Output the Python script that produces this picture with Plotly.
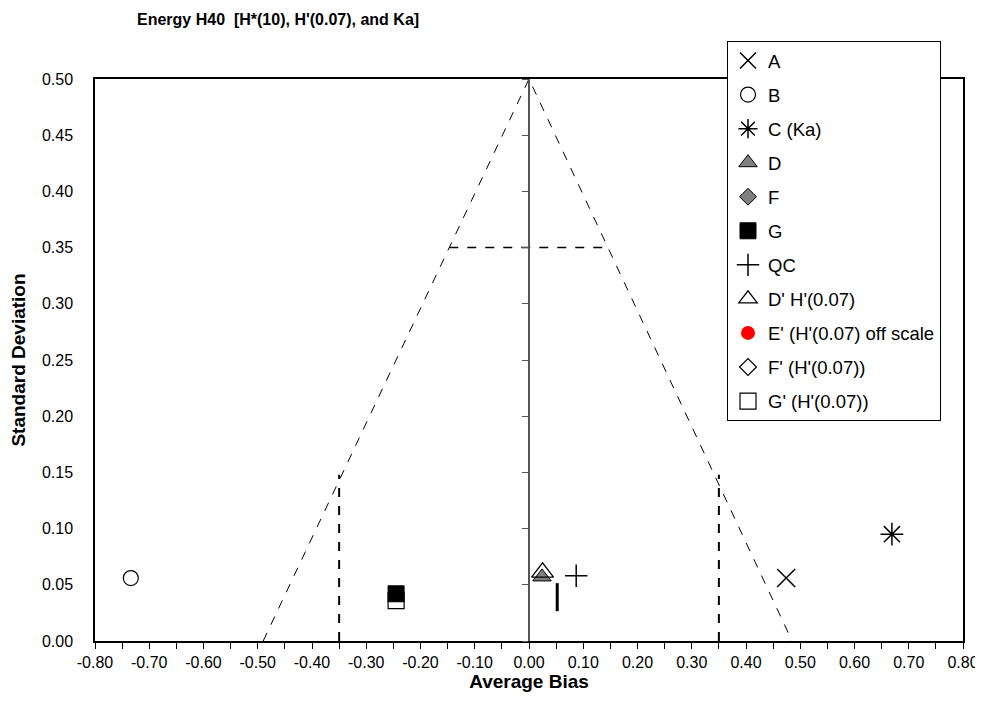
import plotly.graph_objects as go

# ---- data ----
names = ["A", "B", "C (Ka)", "D", "F", "G", "QC", "D' H'(0.07)",
         "E' (H'(0.07) off scale", "F' (H'(0.07))", "G' (H'(0.07))"]
bias = [0.474, -0.734, 0.669, 0.024, None, -0.245, 0.087, 0.025, None, None, -0.245]
stdev = [0.056, 0.056, 0.095, 0.057, None, 0.042, 0.058, 0.061, None, None, 0.036]

# extra unlabelled mark
extra_bias = [0.052]
extra_sd = [0.039]

# acceptance region
tri_x = [-0.49, 0.0, 0.485]
tri_y = [0.0, 0.5, 0.0]
h_x = [-0.147, 0.15]
h_y = [0.35, 0.35]
vl_x = [-0.35, -0.35]
vr_x = [0.35, 0.35]
v_y = [0.0, 0.148]
axis0_x = [0.0, 0.0]
axis0_y = [0.0, 0.5]

# tick labels
x_tickvals = [-0.8, -0.7, -0.6, -0.5, -0.4, -0.3, -0.2, -0.1, 0.0,
              0.1, 0.2, 0.3, 0.4, 0.5, 0.6, 0.7, 0.8]
x_ticktext = ["-0.80", "-0.70", "-0.60", "-0.50", "-0.40", "-0.30", "-0.20", "-0.10", "0.00",
              "0.10", "0.20", "0.30", "0.40", "0.50", "0.60", "0.70", "0.80"]

styles = [
    dict(symbol="x-thin-open", size=18, color="black", line=dict(width=1.5, color="black")),
    dict(symbol="circle-open", size=15, color="black", line=dict(width=1.2, color="black")),
    dict(symbol="asterisk-open", size=19, color="black", line=dict(width=1.5, color="black")),
    dict(symbol="triangle-up", size=16, color="#808080", line=dict(width=1, color="black")),
    dict(symbol="diamond", size=13, color="#808080", line=dict(width=1, color="black")),
    dict(symbol="square", size=16, color="black", line=dict(width=1, color="black")),
    dict(symbol="cross-thin-open", size=16, color="black", line=dict(width=1.5, color="black")),
    dict(symbol="triangle-up-open", size=19, color="black", line=dict(width=1.3, color="black")),
    dict(symbol="circle", size=14, color="red", line=dict(width=0, color="red")),
    dict(symbol="diamond-open", size=13, color="black", line=dict(width=1.2, color="black")),
    dict(symbol="square-open", size=16, color="black", line=dict(width=1.2, color="black")),
]

fig = go.Figure()

fig.add_trace(go.Scatter(x=tri_x, y=tri_y, mode="lines",
                         line=dict(color="black", width=1, dash="dash"),
                         showlegend=False, hoverinfo="skip", legendgroup="z"))
fig.add_trace(go.Scatter(x=h_x, y=h_y, mode="lines",
                         line=dict(color="black", width=1.5, dash="dash"),
                         showlegend=False, hoverinfo="skip", legendgroup="z"))
for vx in (vl_x, vr_x):
    fig.add_trace(go.Scatter(x=vx, y=v_y, mode="lines",
                             line=dict(color="black", width=2, dash="dash"),
                             showlegend=False, hoverinfo="skip", legendgroup="z"))
fig.add_trace(go.Scatter(x=axis0_x, y=axis0_y, mode="lines",
                         line=dict(color="rgba(0,0,0,0)", width=1),
                         showlegend=False, hoverinfo="skip", yaxis="y2", legendgroup="z"))

for i, (n, bx, sy, st) in enumerate(zip(names, bias, stdev, styles)):
    fig.add_trace(go.Scatter(x=[bx], y=[sy], mode="markers", name=n,
                             marker=st, legendgroup="g%d" % i, cliponaxis=False))

fig.add_trace(go.Scatter(x=extra_bias, y=extra_sd, mode="markers",
                         marker=dict(symbol="line-ns-open", size=20, color="black",
                                     line=dict(width=3, color="black")),
                         showlegend=False, legendgroup="z"))

font_name = "Liberation Sans, Arial, sans-serif"

# the page body adds an 8px margin, so the figure is slightly smaller than the window
W, H = 975, 697

fig.update_layout(
    width=W, height=H,
    margin=dict(l=87, r=20, t=71, b=64, autoexpand=False),
    paper_bgcolor="white", plot_bgcolor="white",
    font=dict(family=font_name, size=16, color="black"),
    title=dict(text="<b>Energy H40  [H*(10), H'(0.07), and Ka]</b>",
               x=129 / W, xanchor="left", xref="container",
               y=1 - 11 / H, yanchor="middle", yref="container",
               font=dict(size=16, family=font_name)),
    xaxis=dict(range=[-0.8, 0.8], tickvals=x_tickvals, ticktext=x_ticktext,
               showgrid=False, zeroline=False,
               showline=True, mirror=True, linecolor="black", linewidth=1.5,
               ticks="outside", ticklen=6, tickcolor="black",
               minor=dict(dtick=0.05, tick0=0, ticks="outside", ticklen=6, tickcolor="black"),
               title=dict(text="<b>Average Bias</b>", font=dict(size=19), standoff=0)),
    yaxis=dict(range=[0, 0.5], dtick=0.05, tick0=0, tickformat=".2f",
               showgrid=False, zeroline=False,
               showline=True, mirror=True, linecolor="black", linewidth=1.5,
               ticks="outside", ticklen=17, tickcolor="rgba(0,0,0,0)",
               title=dict(text="<b>Standard Deviation</b>", font=dict(size=19), standoff=12)),
    yaxis2=dict(range=[0, 0.5], overlaying="y", anchor="free", position=0.5,
                showgrid=False, zeroline=False, showticklabels=False,
                showline=True, linecolor="#555555", linewidth=1.5,
                ticks="outside", ticklen=6, tickcolor="#555555", dtick=0.05, tick0=0),
    legend=dict(x=(727 - 95) / 868, xanchor="left", y=(641 - 41) / 562, yanchor="top",
                bordercolor="black", borderwidth=1, bgcolor="white",
                tracegroupgap=7, font=dict(size=18.5, family=font_name),
                itemwidth=30, maxheight=600),
    showlegend=True,
)

fig.write_html("out.html")
